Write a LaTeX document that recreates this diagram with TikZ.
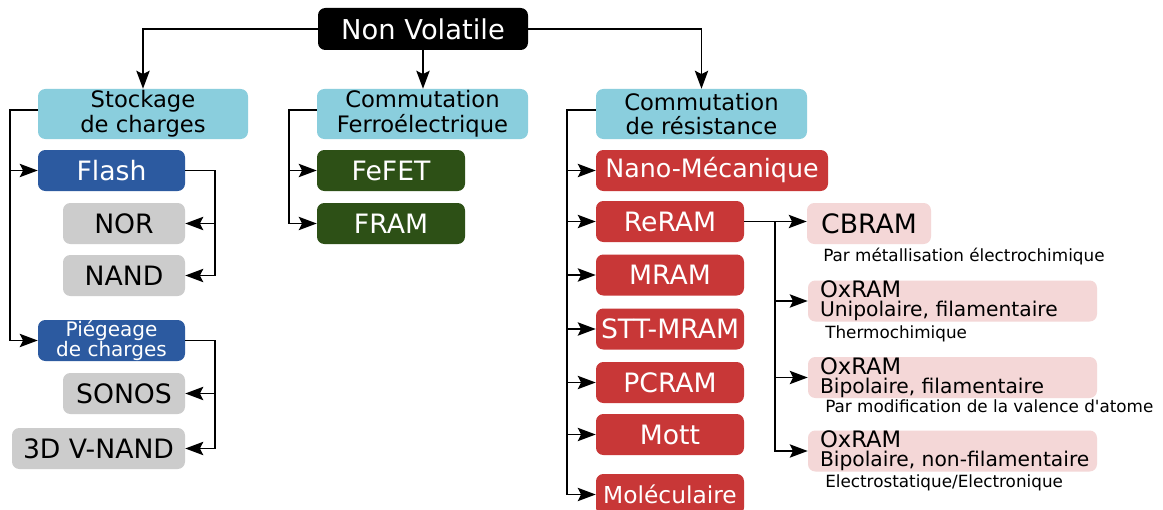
\documentclass[tikz,border=0pt]{standalone}
\usepackage{fontspec}
\setmainfont{DejaVu Sans}
\newfontfamily\plainfont{DejaVu Sans}[Ligatures=TeXOff]
\usetikzlibrary{arrows.meta}
\definecolor{lblue}{RGB}{138,206,221}
\definecolor{dblue}{RGB}{44,90,160}
\definecolor{lgray}{RGB}{204,204,204}
\definecolor{dgreen}{RGB}{45,80,22}
\definecolor{dred}{RGB}{200,55,55}
\definecolor{lpink}{RGB}{244,215,215}
\tikzset{
  sz/.style 2 args={minimum width=#1*0.75pt, minimum height=#2*0.75pt},
  box/.style={rounded corners=5.5pt, inner sep=0pt, align=center,
              font=\fontsize{20}{22}\selectfont},
  blk/.style={box, fill=black, text=white, font=\fontsize{20.5}{22}\selectfont},
  hdr/.style={box, fill=lblue, text=black,
              font={\fontsize{17}{18.5}\selectfont\lineskiplimit=-20pt}},
  bluebox/.style={box, fill=dblue, text=white},
  graybox/.style={box, fill=lgray, text=black},
  greenbox/.style={box, fill=dgreen, text=white},
  redbox/.style={box, fill=dred, text=white},
  pinkbox/.style={box, fill=lpink, text=black},
  oxbox/.style={rounded corners=5.5pt, fill=lpink, inner sep=0pt,
                minimum width=289*0.75pt, minimum height=41*0.75pt},
  oxtext/.style={anchor=west, inner sep=0pt, align=left, text=black,
                font={\fontsize{15.2}{14.3}\selectfont\lineskiplimit=-20pt}},
  sub/.style={anchor=base west, inner sep=0pt, text=black,
              font=\plainfont\fontsize{12.6}{14}\selectfont},
  arr/.style={-{Stealth[length=13.5pt,width=10pt,inset=2.5pt]},
              line width=1.2pt, draw=black}
}
\begin{document}
\begin{tikzpicture}[x=0.75pt,y=-0.75pt]
\clip (0,0) rectangle (1163,510);
\fill[white] (0,0) rectangle (1163,510);

% nodes
\node[blk, sz={210}{42}] (root) at (423,29) {Non Volatile};
\node[hdr, sz={210}{50}] (stock) at (143,114) {Stockage\\de charges};
\node[hdr, sz={211}{50}] (ferro) at (422.5,114) {Commutation\\Ferroélectrique};
\node[hdr, sz={211}{50}] (resist) at (701.5,114) {Commutation\\de résistance};

\node[bluebox, sz={147}{41}] (flash) at (111.5,170.5) {Flash};
\node[graybox, sz={122}{41}] (nor) at (124,223.5) {NOR};
\node[graybox, sz={122}{41}] (nand) at (124,275.5) {NAND};
\node[bluebox, sz={147}{41},
      font={\fontsize{15}{15}\selectfont\lineskiplimit=-20pt}] (piege) at (111.5,340.5) {Piégeage\\de charges};
\node[graybox, sz={122}{41}] (sonos) at (124,393.5) {SONOS};
\node[graybox, sz={173}{41}] (vnand) at (98.5,448.5) {3D V-NAND};

\node[greenbox, sz={148}{41}] (fefet) at (391,170.5) {FeFET};
\node[greenbox, sz={148}{41}] (fram) at (391,223.5) {FRAM};

\node[redbox, sz={232}{41}, font=\fontsize{19}{21}\selectfont] (nano) at (712,170.5) {Nano-Mécanique};
\node[redbox, sz={148}{41}] (reram) at (670,221.5) {ReRAM};
\node[redbox, sz={148}{41}] (mram) at (670,275) {MRAM};
\node[redbox, sz={148}{41}] (stt) at (670,329) {STT-MRAM};
\node[redbox, sz={148}{41}] (pcram) at (670,382.5) {PCRAM};
\node[redbox, sz={148}{41}] (mott) at (670,434.5) {Mott};
\node[redbox, sz={148}{41}, font=\fontsize{17.5}{19}\selectfont] (mol) at (670,494.5) {Moléculaire};

\node[pinkbox, sz={124}{41}] (cbram) at (869,223.5) {CBRAM};
\node[oxbox] (ox1) at (952.5,301) {};
\node[oxbox] (ox2) at (952.5,377.5) {};
\node[oxbox] (ox3) at (952.5,451) {};
\node[oxtext] (ox1t) at ([xshift=9pt]ox1.west) {{\fontsize{17}{14.3}\selectfont OxRAM}\\Unipolaire, filamentaire};
\node[oxtext] (ox2t) at ([xshift=9pt]ox2.west) {{\fontsize{17}{14.3}\selectfont OxRAM}\\Bipolaire, filamentaire};
\node[oxtext] (ox3t) at ([xshift=9pt]ox3.west) {{\fontsize{17}{14.3}\selectfont OxRAM}\\Bipolaire, non-filamentaire};

\node[sub] (s1) at (823,261) {Par métallisation électrochimique};
\node[sub] (s2) at (825,338) {Thermochimique};
\node[sub] (s3) at (825,412) {Par modification de la valence d'atome};
\node[sub] (s4) at (825,487) {Electrostatique/Electronique};

% connectors
\draw[arr] (root.west) -| (stock.north);
\draw[arr] (root.south) -- (root.south |- ferro.north);
\draw[arr] (root.east) -| (resist.north);

\foreach \t in {flash,piege}
  \draw[arr] ([yshift=3pt]stock.west) -- ++(-28,0) |- (\t.west);
\foreach \t in {nor,nand}
  \draw[arr] (flash.east) -- ++(30,0) |- (\t.east);
\foreach \t in {sonos,vnand}
  \draw[arr] (piege.east) -- ++(30,0) |- (\t.east);
\foreach \t in {fefet,fram}
  \draw[arr] ([yshift=3pt]ferro.west) -- ++(-28,0) |- (\t.west);
\foreach \t in {nano,reram,mram,stt,pcram,mott,mol}
  \draw[arr] ([yshift=3pt]resist.west) -- ++(-29,0) |- (\t.west);
\draw[arr] (reram.east) -- (reram.east -| cbram.west);
\foreach \t in {ox1,ox2,ox3}
  \draw[arr] (reram.east) -- ++(31,0) |- (\t.west);
\end{tikzpicture}
\end{document}
